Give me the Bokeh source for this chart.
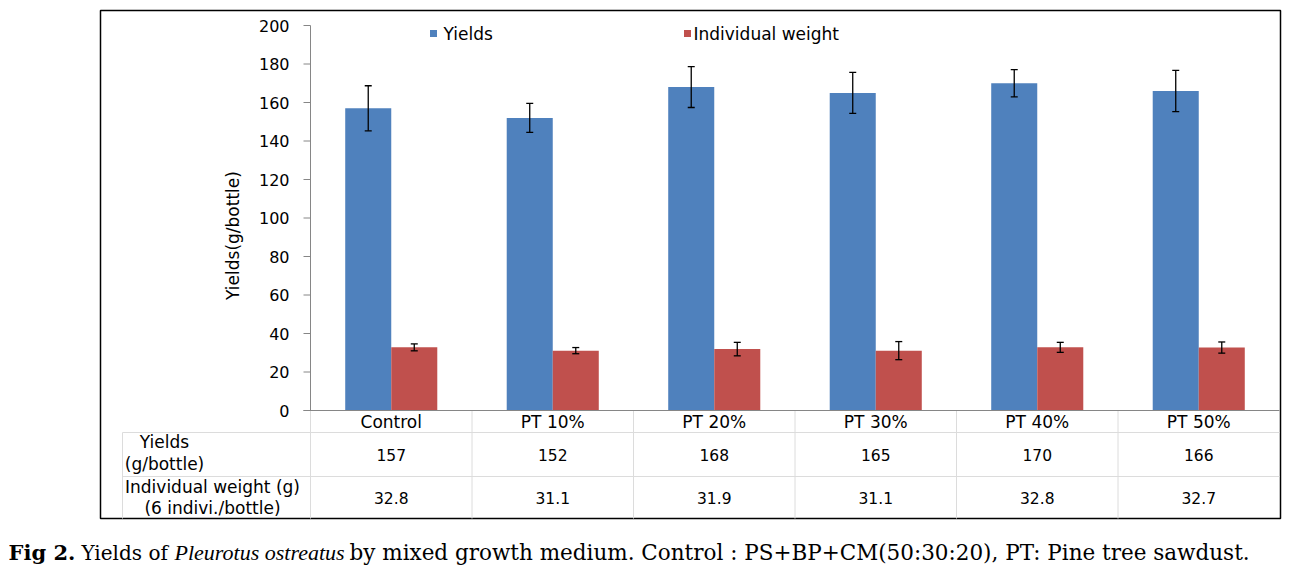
import numpy as np
from bokeh.plotting import figure
from bokeh.models import ColumnDataSource, Range1d, Whisker, TeeHead
from bokeh.core.properties import value
from bokeh.embed import file_html
from bokeh.resources import INLINE

# ---------------- data ----------------
categories = ["Control", "PT 10%", "PT 20%", "PT 30%", "PT 40%", "PT 50%"]
yields = [157, 152, 168, 165, 170, 166]
yields_err = [11.7, 7.5, 10.6, 10.7, 7.1, 10.7]
weight = [32.8, 31.1, 31.9, 31.1, 32.8, 32.7]
weight_err = [1.8, 1.6, 3.5, 4.7, 2.6, 2.9]
y_ticks = [0, 20, 40, 60, 80, 100, 120, 140, 160, 180, 200]
series_names = ["Yields", "Individual weight"]
row_labels_1 = ["Yields", "(g/bottle)"]
row_labels_2 = ["Individual weight (g)", "(6 indivi./bottle)"]
caption_parts = ["Fig 2.", "Yields of", "Pleurotus ostreatus",
                 "by mixed growth medium. Control : PS+BP+CM(50:30:20), PT: Pine tree sawdust."]

BLUE = "#4F81BD"
RED = "#C0504D"
AXIS = "#868686"
GRID = "#DCDCDC"
SANS = value("DejaVu Sans")

# page-pixel -> data helpers (layout only)
PX_X = 161.5
PX_Y = 1.925
def X(px):
    return -0.5 + (px - 310) / PX_X
def Y(py):
    return (410 - py) / PX_Y

W, H = 1290, 568
p = figure(width=W, height=H,
           x_range=Range1d(X(0), X(W)), y_range=Range1d(Y(H), Y(0)),
           x_axis_type=None, y_axis_type=None, min_border=0,
           toolbar_location=None, output_backend="svg",
           outline_line_color=None, background_fill_color="white")

idx = np.arange(len(categories))
bw = 0.285
src = ColumnDataSource(dict(
    xb=idx - bw / 2, xr=idx + bw / 2,
    yields=yields, weight=weight,
    yu=np.array(yields) + np.array(yields_err), yl=np.array(yields) - np.array(yields_err),
    wu=np.array(weight) + np.array(weight_err), wl=np.array(weight) - np.array(weight_err),
))

# outer box
p.quad(left=X(100), right=X(1280), top=Y(10), bottom=Y(518),
       fill_color=None, line_color="black", line_width=1.5)

# table grid
bounds = list(np.arange(len(categories)) - 0.5)
p.segment(x0=bounds, y0=0, x1=bounds, y1=Y(518), line_color=GRID, line_width=1)
p.segment(x0=[X(122)], y0=[Y(432)], x1=[X(122)], y1=[Y(518)], line_color=GRID, line_width=1)
p.segment(x0=X(122), y0=[Y(432), Y(476)], x1=X(1279), y1=[Y(432), Y(476)],
          line_color=GRID, line_width=1)

# bars
p.vbar(x="xb", top="yields", bottom=0, width=bw, source=src, fill_color=BLUE, line_color=None)
p.vbar(x="xr", top="weight", bottom=0, width=bw, source=src, fill_color=RED, line_color=None)

for base, up, lo in (("xb", "yu", "yl"), ("xr", "wu", "wl")):
    w = Whisker(source=src, base=base, upper=up, lower=lo, line_color="black", line_width=1.3,
                level="annotation",
                upper_head=TeeHead(size=7, line_color="black", line_width=1.3),
                lower_head=TeeHead(size=7, line_color="black", line_width=1.3))
    p.add_layout(w)

# y axis (drawn)
p.segment(x0=[X(310)], y0=[0], x1=[X(310)], y1=[max(y_ticks)], line_color=AXIS, line_width=1)
p.segment(x0=X(303), y0=y_ticks, x1=X(310), y1=y_ticks, line_color=AXIS, line_width=1)
p.segment(x0=[X(303)], y0=[0], x1=[X(1279)], y1=[0], line_color=AXIS, line_width=1)
p.text(x=X(289), y=y_ticks, text=[str(t) for t in y_ticks], text_align="right",
       text_baseline="middle", text_font=SANS, text_font_size="16px", text_color="black")
p.text(x=[X(232)], y=[Y(235)], text=["Yields(g/bottle)"], angle=np.pi / 2,
       text_align="center", text_baseline="middle", text_font=SANS,
       text_font_size="17px", text_color="black")

# category labels & table values
p.text(x=idx, y=Y(421), text=categories, text_align="center", text_baseline="middle",
       text_font=SANS, text_font_size="17px", text_color="black")
p.text(x=idx, y=Y(454), text=[str(v) for v in yields], text_align="center",
       text_baseline="middle", text_font=SANS, text_font_size="15.5px", text_color="black")
p.text(x=idx, y=Y(497), text=[f"{v:.1f}" for v in weight], text_align="center",
       text_baseline="middle", text_font=SANS, text_font_size="15.5px", text_color="black")
p.text(x=X(164), y=[Y(441), Y(463)], text=row_labels_1, text_align="center",
       text_baseline="middle", text_font=SANS, text_font_size="17px", text_color="black")
p.text(x=X(212), y=[Y(486), Y(507)], text=row_labels_2, text_align="center",
       text_baseline="middle", text_font=SANS, text_font_size="17px", text_color="black")

# legend
p.scatter(x=[X(433), X(687)], y=[Y(33), Y(33)], marker="square", size=7,
          fill_color=[BLUE, RED], line_color=None)
p.text(x=[X(443), X(693)], y=[Y(33), Y(33)], text=series_names, text_align="left",
       text_baseline="middle", text_font=SANS, text_font_size="17px", text_color="black")

# caption
cy = Y(552)
p.text(x=[X(8)], y=[cy], text=[caption_parts[0]], text_align="left", text_baseline="middle",
       text_font=value("DejaVu Serif"), text_font_style="bold", text_font_size="21px",
       text_color="black")
p.text(x=[X(81)], y=[cy], text=[caption_parts[1]], text_align="left", text_baseline="middle",
       text_font=value("DejaVu Serif"), text_font_size="20px", text_color="black")
p.text(x=[X(174)], y=[cy], text=[caption_parts[2]], text_align="left", text_baseline="middle",
       text_font=value("Liberation Serif"), text_font_style="italic", text_font_size="22px",
       text_color="black")
p.text(x=[X(349)], y=[cy], text=[caption_parts[3]], text_align="left", text_baseline="middle",
       text_font=value("DejaVu Serif"), text_font_size="21.5px", text_color="black")

open("out.html", "w").write(file_html(p, INLINE))
